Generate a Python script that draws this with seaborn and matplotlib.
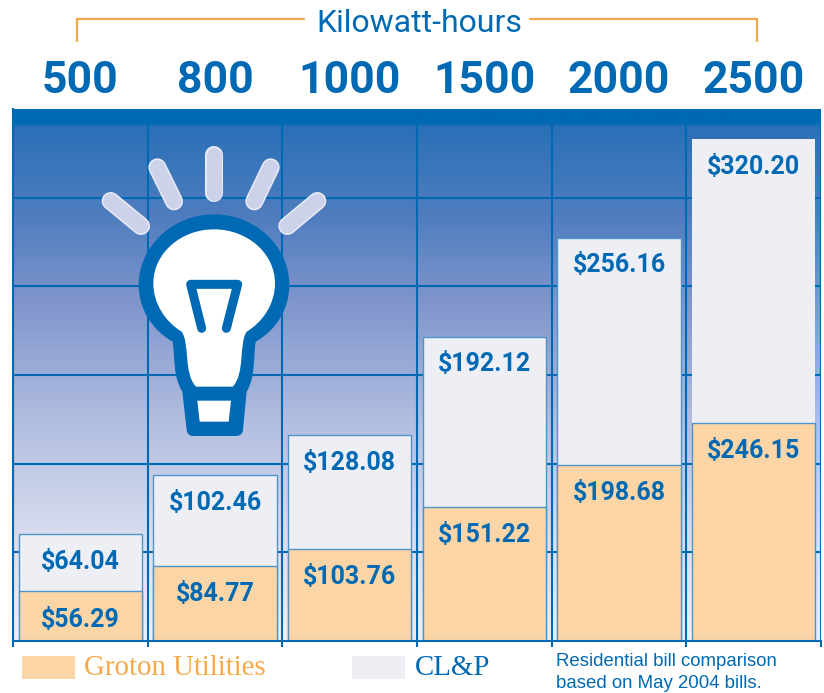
import numpy as np
import matplotlib
matplotlib.use('Agg')
import matplotlib.pyplot as plt
import seaborn as sns
from matplotlib.colors import LinearSegmentedColormap
from matplotlib.patches import PathPatch, Rectangle
from matplotlib.path import Path
from matplotlib.transforms import Affine2D

kwh = ['500', '800', '1000', '1500', '2000', '2500']
groton = [56.29, 84.77, 103.76, 151.22, 198.68, 246.15]
clp = [64.04, 102.46, 128.08, 192.12, 256.16, 320.20]

BLUE = '#0069b4'
ORANGE = '#fbd5a5'
ORANGE_TXT = '#f5a94a'
LIGHT = '#eeeff5'
EDGE = '#4f94c9'

sns.set_theme(style='white')
plt.rcParams['font.family'] = ['Roboto', 'DejaVu Sans']

fig = plt.figure(figsize=(8.24, 6.93), dpi=100, facecolor='white')
ax = fig.add_axes([13 / 824, (693 - 641) / 693, 808 / 824, 532 / 693])

# the bars are stacked: light one is the sum, orange one goes in front
total = [g + c for g, c in zip(groton, clp)]
sns.barplot(x=kwh, y=total, color=LIGHT, saturation=1, width=0.915,
            edgecolor=EDGE, linewidth=1, ax=ax)
ax.patches[-1].set_edgecolor('none')
sns.barplot(x=kwh, y=groton, color=ORANGE, saturation=1, width=0.915,
            edgecolor=EDGE, linewidth=1, ax=ax)

# background gradient
cmap = LinearSegmentedColormap.from_list('bg', [
    (0.0, BLUE), (0.026, BLUE), (0.03, '#2a70b7'), (0.2, '#4f7dbf'),
    (0.36, '#7f95cc'), (0.6, '#b4c0e1'), (0.8, '#d8dcef'), (1.0, '#eef0f9')])
ax.imshow(np.linspace(0, 1, 512).reshape(-1, 1), cmap=cmap, aspect='auto',
          extent=(-0.5, 5.5, 0, 600), zorder=0)

ax.set_xlim(-0.5, 5.5)
ax.set_ylim(0, 600)
ax.set_yticks(range(100, 600, 100))
ax.set_xticks(np.arange(-0.5, 6, 1), minor=True)
ax.tick_params(axis='y', length=0, labelleft=False)
ax.tick_params(axis='x', which='major', length=0, labelbottom=False, labeltop=True, pad=5)
ax.tick_params(axis='x', which='minor', length=4.5, width=1.5, color=BLUE, bottom=True)
for lab in ax.get_xticklabels():
    lab.set_fontsize(32)
    lab.set_fontweight('bold')
    lab.set_color(BLUE)
ax.set_axisbelow(True)
ax.grid(True, which='major', axis='y', color=BLUE, lw=1.5)
ax.grid(True, which='minor', axis='x', color=BLUE, lw=1.5)
for side, sp in ax.spines.items():
    sp.set_visible(side in ('bottom', 'left'))
    sp.set_color(BLUE)
    sp.set_linewidth(1.5)

for i in range(len(kwh)):
    ax.annotate(f'${groton[i]:.2f}', (i, groton[i]), xytext=(0, -20.5), textcoords='offset points',
                ha='center', va='center', fontsize=18, fontweight='bold', color=BLUE)
    ax.annotate(f'${clp[i]:.2f}', (i, total[i]), xytext=(0, -20), textcoords='offset points',
                ha='center', va='center', fontsize=18, fontweight='bold', color=BLUE)

# overlay in picture pixels for the bulb, bracket and legend
ovl = fig.add_axes([0, 0, 1, 1], facecolor='none')
ovl.set_xlim(0, 824)
ovl.set_ylim(693, 0)
ovl.axis('off')

ovl.plot([77, 77, 304], [41, 19, 19], color=ORANGE_TXT, lw=1.6, solid_joinstyle='miter')
ovl.plot([530, 757, 757], [19, 19, 41], color=ORANGE_TXT, lw=1.6, solid_joinstyle='miter')
ovl.text(419, 24, 'Kilowatt-hours', ha='center', va='center', fontsize=23, color=BLUE)

bulb_tf = Affine2D().scale(1 / 3).translate(90, 140) + ovl.transData
M, L, C3, C4, Z = Path.MOVETO, Path.LINETO, Path.CURVE3, Path.CURVE4, Path.CLOSEPOLY

rays = [((62, 183), (153, 258)), ((202, 82), (252, 184)), ((372, 45), (372, 158)),
        ((542, 82), (493, 184)), ((682, 183), (592, 258))]
for a, b in rays:
    xs, ys = [a[0], b[0]], [a[1], b[1]]
    ovl.plot(xs, ys, color='#e8eaf5', lw=13, solid_capstyle='round', transform=bulb_tf)
    ovl.plot(xs, ys, color='#cdd2ea', lw=10.8, solid_capstyle='round', transform=bulb_tf)

outer = Path(
    [(372, 223), (247, 223), (146, 320), (146, 435), (146, 505), (185, 570), (248, 605),
     (255, 650), (248, 710), (277, 755), (290, 870), (292, 888), (310, 888), (437, 888),
     (457, 888), (459, 870), (470, 755), (497, 710), (490, 650), (497, 605),
     (560, 570), (598, 505), (598, 435), (598, 320), (497, 223), (372, 223), (372, 223)],
    [M, C4, C4, C4, C4, C4, C4, C4, C4, C4, L, C3, C3, L, C3, C3, L,
     C4, C4, C4, C4, C4, C4, C4, C4, C4, Z])
glass = Path(
    [(372, 268), (272, 268), (190, 340), (190, 430), (190, 490), (225, 545), (275, 575),
     (300, 610), (280, 700), (318, 740), (428, 740), (466, 700), (446, 610), (470, 575),
     (520, 545), (555, 490), (555, 430), (555, 340), (472, 268), (372, 268), (372, 268)],
    [M, C4, C4, C4, C4, C4, C4, C4, C4, C4, L, C4, C4, C4, C4, C4, C4, C4, C4, C4, Z])
base = Path([(322, 782), (423, 782), (416, 845), (329, 845), (322, 782)], [M, L, L, L, Z])
ovl.add_patch(PathPatch(outer, fc=BLUE, lw=0, transform=bulb_tf))
ovl.add_patch(PathPatch(glass, fc='white', lw=0, transform=bulb_tf))
ovl.add_patch(PathPatch(base, fc='white', lw=0, transform=bulb_tf))
ovl.plot([335, 302, 443, 409], [565, 433, 433, 565], color=BLUE, lw=6.5, transform=bulb_tf,
         solid_capstyle='round', solid_joinstyle='round')

# legend and note
ovl.add_patch(Rectangle((22, 656), 53, 23, fc=ORANGE, lw=0))
ovl.add_patch(Rectangle((352, 656), 53, 23, fc=LIGHT, lw=0))
ovl.text(84, 668, 'Groton Utilities', family='Liberation Serif', fontsize=20.8,
         color=ORANGE_TXT, va='center')
ovl.text(415, 668, 'CL&P', family='Liberation Serif', fontsize=20.8, color=BLUE, va='center')
ovl.text(556, 661, 'Residential bill comparison', family='Liberation Sans', fontsize=13.4,
         color=BLUE, va='center')
ovl.text(556, 684, 'based on May 2004 bills.', family='Liberation Sans', fontsize=13.4,
         color=BLUE, va='center')

fig.savefig('out.png', dpi=100)
